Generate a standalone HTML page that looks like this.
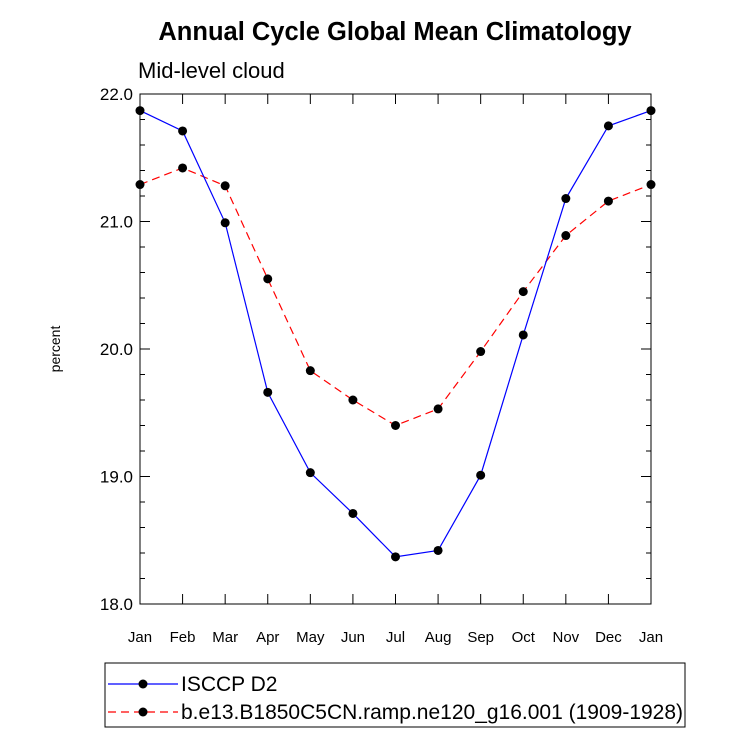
<!DOCTYPE html>
<html><head><meta charset="utf-8"><style>
body{margin:0;background:#fff;}
svg{display:block;font-family:"Liberation Sans",sans-serif;}
</style></head><body>
<svg id="c" width="733" height="737">
<text x="395" y="40" text-anchor="middle" font-size="25.5" font-weight="bold">Annual Cycle Global Mean Climatology</text>
<text x="138" y="78" font-size="22">Mid-level cloud</text>
<text transform="translate(60,349) rotate(-90)" text-anchor="middle" font-size="14">percent</text>
<g id="axes"></g>
<g id="series"></g>
<rect x="105" y="663" width="580" height="64" fill="none" stroke="#000" stroke-width="1"/>
<g>
<line x1="108" y1="684" x2="178" y2="684" stroke="#0000ff" stroke-width="1.2"/>
<circle cx="143" cy="684" r="4.5"/>
<text x="181" y="691" font-size="21">ISCCP D2</text>
</g>
<g>
<line x1="108" y1="712" x2="178" y2="712" stroke="#ff0000" stroke-width="1.2" stroke-dasharray="8,5"/>
<circle cx="143" cy="712" r="4.5"/>
<text x="181" y="719" font-size="21">b.e13.B1850C5CN.ramp.ne120_g16.001 (1909-1928)</text>
</g>
</svg>
<script>
const months=["Jan","Feb","Mar","Apr","May","Jun","Jul","Aug","Sep","Oct","Nov","Dec","Jan"];
const isccp=[21.87,21.71,20.99,19.66,19.03,18.71,18.37,18.42,19.01,20.11,21.18,21.75,21.87];
const model=[21.29,21.42,21.28,20.55,19.83,19.6,19.4,19.53,19.98,20.45,20.89,21.16,21.29];
const yTicks=["18.0","19.0","20.0","21.0","22.0"];
const X0=140,X1=651,Y0=604,Y1=94,ymin=18,ymax=22;
const xs=i=>X0+(X1-X0)*i/(months.length-1);
const ys=v=>Y0-(v-ymin)/(ymax-ymin)*(Y0-Y1);
const NS="http://www.w3.org/2000/svg";
const ax=document.getElementById('axes'),se=document.getElementById('series');
function mk(tag,a,p){const e=document.createElementNS(NS,tag);for(const k in a)e.setAttribute(k,a[k]);p.appendChild(e);return e;}
const fr=mk('rect',{x:X0,y:Y1,width:X1-X0,height:Y0-Y1,fill:'none',stroke:'#000','stroke-width':1},ax);


months.forEach((m,i)=>{const x=xs(i);
mk('line',{x1:x,y1:Y0,x2:x,y2:Y0-10,stroke:'#000'},ax);
mk('line',{x1:x,y1:Y1,x2:x,y2:Y1+10,stroke:'#000'},ax);
const t=mk('text',{x:x,y:Y0+38,'text-anchor':'middle','font-size':15},ax);t.textContent=m;

});
for(let v=ymin;v<=ymax+1e-9;v+=0.2){const y=ys(v);const maj=Math.abs(v-Math.round(v))<1e-6;const L=maj?10:5;
mk('line',{x1:X0,y1:y,x2:X0+L,y2:y,stroke:'#000'},ax);
mk('line',{x1:X1,y1:y,x2:X1-L,y2:y,stroke:'#000'},ax);}
yTicks.forEach(s=>{const y=ys(parseFloat(s));const t=mk('text',{x:X0-7,y:y+6,'text-anchor':'end','font-size':17},ax);t.textContent=s;

});
function draw(data,color,dash,name){
const p=mk('polyline',{points:data.map((v,i)=>xs(i)+','+ys(v)).join(' '),fill:'none',stroke:color,'stroke-width':1.2,'stroke-dasharray':dash},se);


data.forEach((v,i)=>{const c=mk('circle',{cx:xs(i),cy:ys(v),r:4.5,fill:'#000'},se);

});}
draw(model,'#ff0000','8,5','model');
draw(isccp,'#0000ff','none','isccp');
</script>
</body></html>
